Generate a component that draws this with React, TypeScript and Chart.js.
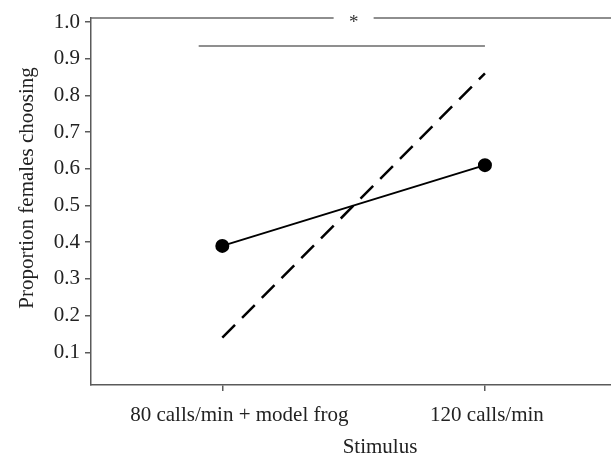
import React, { useEffect, useRef } from "react";
import { Chart, registerables } from "chart.js";

Chart.register(...registerables);

const categories = ["80 calls/min + model frog", "120 calls/min"];
const categoryPositions = [0, 1];
const solidValues = [0.39, 0.61];
const dashedValues = [0.14, 0.86];
const yTickValues = [0.1, 0.2, 0.3, 0.4, 0.5, 0.6, 0.7, 0.8, 0.9, 1.0];
const sigBarX = [-0.09, 1.0];
const sigBarY = [0.935, 0.935];
const sigLabel = "*";
const sigLabelX = 0.5;
const yTitle = "Proportion females choosing";
const xTitle = "Stimulus";

const FONT = "'Liberation Serif', 'Times New Roman', serif";
const AXIS = "#5a5a5a";
const TEXT = "#222";
const LABEL_SHIFT = [17, 2];

const annotations = {
  id: "annotations",
  afterDraw(chart: any) {
    const { ctx, chartArea, scales } = chart;
    const x = scales.x;
    ctx.save();
    const starX = x.getPixelForValue(sigLabelX);
    const top = chartArea.top;
    ctx.strokeStyle = "#6a6a6a";
    ctx.lineWidth = 1.5;
    ctx.beginPath();
    ctx.moveTo(chartArea.left, top);
    ctx.lineTo(starX - 20, top);
    ctx.moveTo(starX + 20, top);
    ctx.lineTo(chartArea.right, top);
    ctx.stroke();
    ctx.fillStyle = "#333";
    ctx.font = `19px ${FONT}`;
    ctx.textAlign = "center";
    ctx.textBaseline = "alphabetic";
    ctx.fillText(sigLabel, starX, top + 10);
    // category labels
    ctx.fillStyle = TEXT;
    ctx.font = `21px ${FONT}`;
    categories.forEach((c, i) => {
      ctx.fillText(c, x.getPixelForValue(categoryPositions[i]) + LABEL_SHIFT[i], 421);
    });
    ctx.textBaseline = "middle";
    ctx.fillText(xTitle, 380, 447);
    ctx.translate(27, 188);
    ctx.rotate(-Math.PI / 2);
    ctx.fillText(yTitle, 0, 0);
    ctx.restore();
  },
};

export default function App() {
  const ref = useRef<HTMLCanvasElement | null>(null);
  useEffect(() => {
    if (!ref.current) return;
    const chart = new Chart(ref.current, {
      type: "line",
      data: {
        datasets: [
          {
            data: sigBarX.map((x, i) => ({ x, y: sigBarY[i] })),
            borderColor: "#6a6a6a",
            borderWidth: 1.5,
            pointRadius: 0,
          },
          {
            data: categoryPositions.map((x, i) => ({ x, y: dashedValues[i] })),
            borderColor: "#000",
            borderWidth: 2.5,
            borderDash: [18, 10],
            pointRadius: 0,
          },
          {
            data: categoryPositions.map((x, i) => ({ x, y: solidValues[i] })),
            borderColor: "#000",
            borderWidth: 2,
            pointRadius: 6,
            pointBackgroundColor: "#000",
            pointBorderColor: "#000",
          },
        ],
      },
      options: {
        animation: false,
        responsive: false,
        maintainAspectRatio: false,
        layout: { autoPadding: false, padding: { top: 18, right: 0, left: 0, bottom: 0 } },
        plugins: { legend: { display: false }, tooltip: { enabled: false } },
        scales: {
          x: {
            type: "linear",
            min: -0.5,
            max: 1.48,
            afterBuildTicks: (s: any) => {
              s.ticks = categoryPositions.map((v) => ({ value: v }));
            },
            afterFit: (s: any) => {
              s.height = 72;
              s.paddingLeft = 0;
              s.paddingRight = 0;
            },
            ticks: { display: false },
            grid: { drawOnChartArea: false, drawTicks: true, tickLength: 6, color: AXIS, lineWidth: 1.5 },
            border: { display: true, color: AXIS, width: 1.5 },
          },
          y: {
            type: "linear",
            min: 0.011,
            max: 1.011,
            afterBuildTicks: (s: any) => {
              s.ticks = yTickValues.map((v) => ({ value: v }));
            },
            afterFit: (s: any) => {
              s.width = 91;
            },
            ticks: {
              callback: (v: any) => Number(v).toFixed(1),
              font: { family: FONT, size: 21 },
              color: TEXT,
              padding: 5,
            },
            grid: { drawOnChartArea: false, drawTicks: true, tickLength: 6, color: AXIS, lineWidth: 1.5 },
            border: { display: true, color: AXIS, width: 1.5 },
          },
        },
      },
      plugins: [annotations],
    });
    return () => chart.destroy();
  }, []);
  return (
    <div style={{ position: "fixed", left: 0, top: 0, width: 611, height: 457, background: "#fff" }}>
      <canvas ref={ref} width={611} height={457} style={{ display: "block" }} />
    </div>
  );
}
